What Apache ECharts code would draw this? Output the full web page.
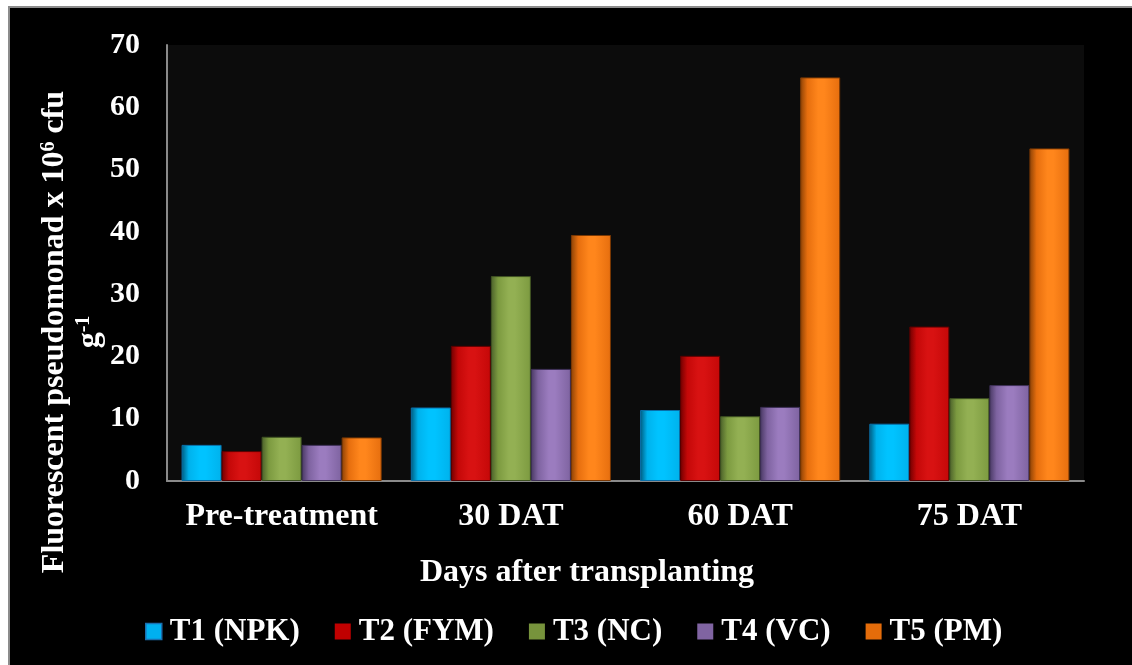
<!DOCTYPE html>
<html>
<head>
<meta charset="utf-8">
<script src="https://cdn.jsdelivr.net/npm/echarts@6/dist/echarts.min.js"></script>
<style>
  html, body { margin: 0; padding: 0; background: #ffffff; }
  #frame {
    position: absolute; left: 8px; top: 6px; width: 1140px; height: 680px;
    background: #000000; border-left: 2px solid #8c8c8c; border-top: 2px solid #8c8c8c;
    box-sizing: border-box;
  }
  #chart { position: absolute; left: 0; top: 0; width: 1132px; height: 665px; }
</style>
</head>
<body>
<div id="frame"></div>
<div id="chart"></div>
<script>
// Sampling stages (x axis)
const categories = ['Pre-treatment', '30 DAT', '60 DAT', '75 DAT'];

// Treatment names
const seriesNames = ['T1 (NPK)', 'T2 (FYM)', 'T3 (NC)', 'T4 (VC)', 'T5 (PM)'];

// Fluorescent pseudomonad population (x 10^6 cfu g^-1) per treatment
const t1Values = [5.8, 11.8, 11.4, 9.2];
const t2Values = [4.8, 21.7, 20.1, 24.8];
const t3Values = [7.1, 32.9, 10.4, 13.3];
const t4Values = [5.8, 18.0, 11.9, 15.4];
const t5Values = [7.0, 39.5, 64.8, 53.4];

// Y axis range
const yMin = 0, yMax = 70, yStep = 10;

const allValues = [t1Values, t2Values, t3Values, t4Values, t5Values];

// Cylinder-like shading per treatment: [edge shadow, highlight, right side, border, legend swatch]
const shades = [
  ['#005a7d', '#00c3ff', '#00b2ec', '#0a6fa8', '#00b0f0'],
  ['#6e0000', '#d81212', '#c40808', '#5a0000', '#c00000'],
  ['#4a5f2a', '#93b053', '#7c9a40', '#3f5222', '#77933c'],
  ['#483862', '#9b7cbf', '#7e63a0', '#3e3057', '#8064a2'],
  ['#8a4106', '#ff861c', '#e66e0e', '#7a3804', '#e46c0a']
];

const serif = '"Liberation Serif", "Times New Roman", serif';

function barGradient(s) {
  return {
    type: 'linear', x: 0, y: 0, x2: 1, y2: 0,
    colorStops: [
      { offset: 0, color: s[0] },
      { offset: 0.18, color: s[2] },
      { offset: 0.45, color: s[1] },
      { offset: 0.6, color: s[1] },
      { offset: 1, color: s[2] }
    ]
  };
}

const series = seriesNames.map((name, i) => ({
  name: name,
  type: 'bar',
  data: allValues[i],
  barGap: '0%',
  barCategoryGap: '12.7%',
  itemStyle: {
    color: barGradient(shades[i]),
    borderColor: shades[i][3],
    borderWidth: 1
  },
  emphasis: { disabled: true }
}));

const chart = echarts.init(document.getElementById('chart'), null, { renderer: 'canvas' });

chart.setOption({
  backgroundColor: 'transparent',
  animation: false,
  grid: {
    left: 167, top: 45, right: 48, bottom: 184,
    show: true, backgroundColor: '#0c0c0c', borderWidth: 0
  },
  legend: {
    left: 140, top: 611,
    itemWidth: 16, itemHeight: 16, itemGap: 35,
    icon: 'rect',
    data: seriesNames.map((n, i) => ({
      name: n,
      itemStyle: { color: shades[i][4], borderColor: i === 0 ? '#1a6fb0' : shades[i][4], borderWidth: i === 0 ? 1.5 : 0 }
    })),
    textStyle: { color: '#ffffff', fontFamily: serif, fontWeight: 'bold', fontSize: 31, padding: [0, 0, 0, 3] }
  },
  xAxis: {
    type: 'category',
    data: categories,
    axisLine: { show: true, lineStyle: { color: '#8a8a8a', width: 2 } },
    axisTick: { show: false },
    axisLabel: {
      color: '#ffffff', fontFamily: serif, fontWeight: 'bold', fontSize: 32, margin: 20,
      interval: 0
    },
    splitLine: { show: false }
  },
  yAxis: {
    type: 'value',
    min: yMin, max: yMax, interval: yStep,
    axisLine: { show: true, lineStyle: { color: '#8a8a8a', width: 2 } },
    axisTick: { show: false },
    axisLabel: { color: '#ffffff', fontFamily: serif, fontWeight: 'bold', fontSize: 30, margin: 27 },
    splitLine: { show: false }
  },
  graphic: [
    {
      type: 'text',
      x: 55, y: 332,
      rotation: Math.PI / 2,
      style: {
        text: 'Fluorescent pseudomonad x 10{sup|6} cfu',
        fill: '#ffffff',
        font: 'bold 32px ' + serif,
        align: 'center', verticalAlign: 'middle',
        rich: {
          sup: { fontSize: 20, fontWeight: 'bold', fontFamily: serif, fill: '#ffffff', verticalAlign: 'top', lineHeight: 32 }
        }
      }
    },
    {
      type: 'text',
      x: 90, y: 332,
      rotation: Math.PI / 2,
      style: {
        text: 'g{sup|-1}',
        fill: '#ffffff',
        font: 'bold 32px ' + serif,
        align: 'center', verticalAlign: 'middle',
        rich: {
          sup: { fontSize: 20, fontWeight: 'bold', fontFamily: serif, fill: '#ffffff', verticalAlign: 'top', lineHeight: 32 }
        }
      }
    },
    {
      type: 'text',
      x: 587, y: 573,
      style: {
        text: 'Days after transplanting',
        fill: '#ffffff',
        font: 'bold 32px ' + serif,
        align: 'center', verticalAlign: 'middle'
      }
    }
  ],
  series: series
});
</script>
</body>
</html>
